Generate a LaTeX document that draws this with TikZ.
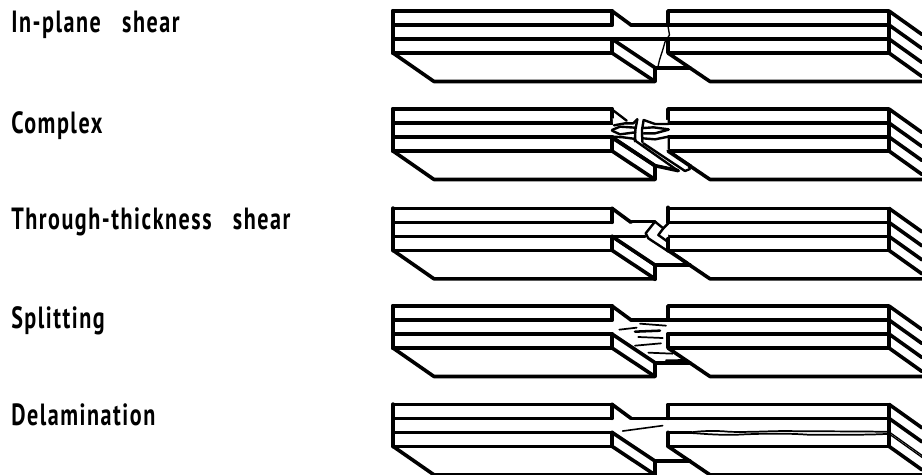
\documentclass[tikz,border=0pt]{standalone}
\usepackage{fontspec}
\newfontfamily\lblfont[FakeStretch=0.72,LetterSpace=5,WordSpace=3]{PT Sans}
\tikzset{
  heavy/.style={line width=2.7pt,line cap=round,line join=round},
  edgeheavy/.style={line width=3.1pt,line cap=round,line join=round},
  thin crack/.style={line width=1pt,line cap=round,line join=round},
  slash/.style={line width=1.3pt,line cap=round},
  medium/.style={line width=1.8pt,line cap=round,line join=round},
  lbl/.style={font=\lblfont\bfseries\fontsize{23}{27}\selectfont,anchor=base west,inner sep=0pt,text=black},
  pics/plate/.style={code={
    \draw[edgeheavy] (393,11) -- (393,53);
    \draw[heavy] (393,11) -- (612,11);
    \draw[heavy] (393,25) -- (612,25);
    \draw[heavy] (393,39) -- (612,39);
    \draw[heavy] (393,53) -- (612,53);
    \draw[heavy] (612,11) -- (612,25) (612,39) -- (612,53);
    \draw[heavy] (393,53) -- (434,81.5) -- (655,81.5) -- (655,67.7) -- (612,39);
    \draw[heavy] (612,53) -- (655,81.5);
    \draw[heavy] (655,67.7) -- (690,67.7);
    \draw[heavy] (668,25) -- (668,11) -- (889,11) -- (889,53) -- (668,53) -- (668,39);
    \draw[heavy] (668,25) -- (889,25) (668,39) -- (889,39);
    \draw[heavy] (668,53) -- (710,81.5) -- (922,81.5);
    \draw[heavy] (889,11) -- (922,34.5) (889,25) -- (922,48.5) (889,53) -- (922,76.5);
  }},
  pics/farcorner/.style={code={
    \draw[heavy] (889,39) -- (922,62.5);
  }},
  pics/topslope/.style={code={
    \draw[heavy] (612,11) -- (631,25);
  }}
}
\begin{document}
\begin{tikzpicture}[x=0.75pt,y=-0.75pt]
\useasboundingbox (0,0) rectangle (922,475);
\fill[white] (0,0) rectangle (922,475);
\clip (0,0) rectangle (922,475);

\node[lbl] (t1) at (11,32.5) {In-plane shear};
\node[lbl] (t2) at (11,133) {Complex};
\node[lbl] (t3) at (11,229) {Through-thickness shear};
\node[lbl] (t4) at (11,328) {Splitting};
\node[lbl] (t5) at (11,425) {Delamination};

% ---------- row 1
\begin{scope}
  \pic {plate}; \pic {farcorner}; \pic {topslope};
  \draw[heavy] (631,25) -- (668,25);
  \draw[heavy] (612,39) -- (668,39);
  \fill[white] (666.2,27.2) rectangle (669.8,36.8);
  \draw[thin crack] (668,26) -- (669.5,35) -- (665,42) -- (662.7,50) -- (659.5,60) -- (657.7,68);
\end{scope}

% ---------- row 2
\begin{scope}[yshift=-73.5pt]
  \pic {plate}; \pic {farcorner};
\end{scope}
\begin{scope}[shift={(600,100)},scale=0.33333]
  \fill[white] (38,55) -- (203,60) -- (203,148) -- (270,196) -- (255,212) -- (168,193) -- (100,120) -- (42,108) -- cycle;
  \draw[medium] (38,30) -- (80,62);
  \draw[medium] (42,76) -- (75,70) -- (100,70) -- (112,58);
  \draw[medium] (36,90) -- (60,80) -- (106,83);
  \draw[medium] (36,92) -- (60,103) -- (106,97);
  \draw[medium] (40,110) -- (70,112) -- (100,116) -- (108,122);
  \draw[medium] (112,58) -- (106,90) -- (105,124);
  \draw[medium] (131,60) -- (126,90) -- (127,126);
  \draw[medium] (131,60) -- (165,72) -- (205,72);
  \draw[medium] (131,84) -- (160,82) -- (206,88);
  \draw[medium] (131,100) -- (165,100) -- (206,89);
  \draw[medium] (128,115) -- (165,118) -- (205,110);
  \draw[medium] (110,125) -- (235,213);
  \draw[medium] (130,130) -- (255,213);
  \draw[heavy] (165,197) -- (235,212);
  \draw[medium] (255,213) -- (270,207);
  \draw[heavy] (36,113) -- (165,197);
  \draw[heavy] (204,153) -- (272,199);
\end{scope}

% ---------- row 3
\begin{scope}[yshift=-148pt]
  \pic {plate}; \pic {farcorner}; \pic {topslope};
\end{scope}
\begin{scope}[shift={(600,200)},scale=0.33333]
  \fill[white] (140,62) -- (204,62) -- (204,150) -- (250,190) -- (168,192) -- (42,112) -- (42,105) -- (134,100) -- cycle;
  \draw[heavy] (95,65) -- (165,65);
  \draw[heavy] (36,109) -- (135,109);
  \draw[heavy] (36,109) -- (165,195);
  \draw[medium] (165,65) -- (137,100) -- (145,115) -- (206,155);
  \draw[medium] (165,65) -- (190,85) -- (175,105) -- (203,125);
  \draw[medium] (190,85) -- (205,70);
  \draw[heavy] (204,68) -- (204,22);
  \draw[heavy] (204,116) -- (204,151);
  \draw[heavy] (204,151) -- (262,190);
  \draw[heavy] (165,195) -- (165,238);
  \draw[heavy] (165,195) -- (250,195);
\end{scope}

% ---------- row 4
\begin{scope}[yshift=-221.25pt]
  \pic {plate}; \pic {farcorner}; \pic {topslope};
  \draw[heavy] (631,25) -- (668,25);
\end{scope}
\begin{scope}[shift={(380,295)},scale=0.33333]
  \draw[slash] (718,104) -- (770,98);
  \draw[slash] (780,86) -- (858,92);
  \draw[line width=1.9pt,line cap=round] (765,110) -- (840,107);
  \draw[slash] (775,126) -- (848,129);
  \draw[slash] (765,152) -- (843,145);
  \draw[slash] (805,173) -- (878,176);
  \draw[slash] (858,196) -- (912,195);
\end{scope}

% ---------- row 5
\begin{scope}[yshift=-295pt]
  \pic {plate}; \pic {topslope};
  \draw[heavy] (631,25) -- (668,25);
  \fill[white] (670,36) rectangle (887.4,42);
  \draw[line width=1.8pt] (668,39) -- (692,39);
  \draw[line width=1.3pt,line cap=round] (688,39.5) .. controls (700,37.5) and (715,37) .. (730,38.5) .. controls (760,39) and (775,37) .. (800,38) .. controls (830,38) and (860,38) .. (889,38.5);
  \draw[line width=1.3pt,line cap=round] (688,39.5) .. controls (700,40) and (720,42.5) .. (745,41) .. controls (770,40) and (790,40) .. (810,41.5) .. controls (840,41) and (860,42) .. (889,40.5);
  \draw[thin crack] (889,38.5) -- (922,62);
  \draw[thin crack] (889,40.5) -- (922,64);
  \draw[line width=1.2pt,line cap=round] (622.7,37.7) -- (662.7,32.3);
\end{scope}
\end{tikzpicture}
\end{document}
